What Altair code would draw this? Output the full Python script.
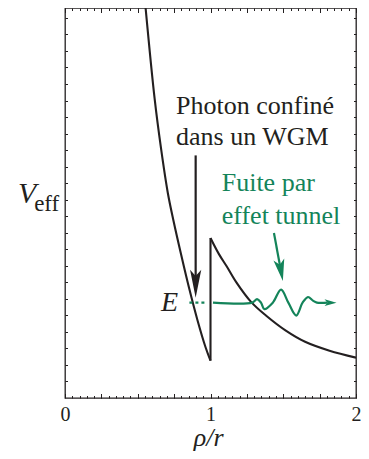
import altair as alt
import pandas as pd

BLACK = "#231f20"
GREEN = "#14845a"
FONT = "Liberation Serif"

# ---- data (x = rho/r, v = V_eff in arbitrary units) ----
left_x = [0.550, 0.616, 0.660, 0.707, 0.746, 0.798, 0.852, 0.911, 0.966, 1.0]
left_v = [23.97, 18.11, 15.10, 12.39, 10.71, 8.68, 6.68, 4.69, 3.07, 2.26]

jump_x = [1.0, 1.0]
jump_v = [2.26, 9.68]

right_x = [1.0, 1.057, 1.111, 1.179, 1.280, 1.381, 1.515, 1.650, 1.818, 2.0]
right_v = [9.68, 8.72, 7.97, 6.98, 5.80, 4.99, 4.09, 3.40, 2.86, 2.44]

dotted_x = [0.855, 0.976]
dotted_v = [5.77, 5.77]

wave_x = [1.017, 1.286, 1.320, 1.347, 1.370, 1.428, 1.485, 1.535, 1.589, 1.633, 1.670, 1.704, 1.731, 1.805]
wave_v = [5.77, 5.77, 5.98, 5.77, 5.38, 5.77, 6.56, 5.77, 4.99, 5.77, 6.11, 5.89, 5.77, 5.77]

wgm_arrow_x = [0.898, 0.898]
wgm_arrow_v = [14.68, 6.92]

tunnel_arrow_x = [1.436, 1.4835]
tunnel_arrow_v = [9.985, 7.73]

wave_tip_x = [1.825]
wave_tip_v = [5.77]

label_text = ["Photon confiné", "dans un WGM"]
label_x = [0.763, 0.763]
label_v = [17.20, 15.30]

green_text = ["Fuite par", "effet tunnel"]
green_x = [1.077, 1.077]
green_v = [12.51, 10.53]

x_minor_ticks = [round(0.05 * i, 2) for i in range(1, 40)]
x_major_ticks = [0, 0.25, 0.5, 0.75, 1, 1.25, 1.5, 1.75, 2]
y_ticks = list(range(1, 24))

XDOM = [0, 2]
YDOM = [0, 23.6]

xs = alt.Scale(domain=XDOM, nice=False, zero=False)
ys = alt.Scale(domain=YDOM, nice=False, zero=False)


def df(x, v, **extra):
    d = pd.DataFrame({"x": x, "v": v})
    for k, val in extra.items():
        d[k] = val
    return d


def tick_axis(orient, values, size):
    return alt.Axis(orient=orient, values=values, tickSize=alt.ExprRef(expr=str(-size)),
                    labels=False, domain=False, grid=False, title=None,
                    tickColor=BLACK, tickWidth=1)


bottom_major = alt.Axis(orient="bottom", values=x_major_ticks, tickSize=alt.ExprRef(expr="-4.5"),
                        labelExpr="datum.value % 1 === 0 ? format(datum.value, 'd') : ''",
                        labelFont=FONT, labelFontSize=20, labelColor=BLACK,
                        labelPadding=10.5, labelFlush=False, labelOverlap=False,
                        domain=False, grid=False, title=None, tickColor=BLACK, tickWidth=1)

X = lambda ax=None: alt.X("x:Q", scale=xs, axis=ax)
Y = lambda ax=None: alt.Y("v:Q", scale=ys, axis=ax)

left = alt.Chart(df(left_x, left_v)).mark_line(
    color=BLACK, strokeWidth=2.1, interpolate="catmull-rom", clip=True
).encode(x=X(tick_axis("bottom", x_minor_ticks, 2.5)), y=Y(tick_axis("left", y_ticks, 2.5)))

jump = alt.Chart(df(jump_x, jump_v)).mark_line(
    color=BLACK, strokeWidth=2.1, clip=True
).encode(x=X(tick_axis("top", x_minor_ticks, 2.5)), y=Y(tick_axis("right", y_ticks, 2.5)))

right = alt.Chart(df(right_x, right_v)).mark_line(
    color=BLACK, strokeWidth=2.1, interpolate="catmull-rom", clip=True
).encode(x=X(bottom_major), y=Y())

wave = alt.Chart(df(wave_x, wave_v, o=list(range(len(wave_x))))).mark_line(
    color=GREEN, strokeWidth=2.2, interpolate="catmull-rom"
).encode(x=X(tick_axis("top", x_major_ticks, 4.5)), y=Y(), order="o:Q")

dotted = alt.Chart(df(dotted_x, dotted_v)).mark_line(
    color=GREEN, strokeWidth=2.2, strokeDash=[3, 3]
).encode(x=X(), y=Y())

wgm_line = alt.Chart(df(wgm_arrow_x, wgm_arrow_v)).mark_line(
    color=BLACK, strokeWidth=2.2
).encode(x=X(), y=Y())

wgm_head = alt.Chart(df(wgm_arrow_x[1:], wgm_arrow_v[1:])).mark_point(
    shape="M0,1 L-0.4,-1 L0,-0.55 L0.4,-1 Z", filled=True, size=784,
    color=BLACK, opacity=1, strokeWidth=0
).encode(x=X(), y=Y())

tunnel_line = alt.Chart(df(tunnel_arrow_x, tunnel_arrow_v)).mark_line(
    color=GREEN, strokeWidth=2.2
).encode(x=X(), y=Y())

tunnel_head = alt.Chart(df(tunnel_arrow_x[1:], tunnel_arrow_v[1:])).mark_point(
    shape="M0,1 L-0.5,-1 L0,-0.5 L0.5,-1 Z", filled=True, size=484, angle=349.5,
    color=GREEN, opacity=1, strokeWidth=0
).encode(x=X(), y=Y())

wave_head = alt.Chart(df(wave_tip_x, wave_tip_v)).mark_point(
    shape="M1,0 L-1,-0.55 L-0.5,0 L-1,0.55 Z", filled=True, size=144,
    color=GREEN, opacity=1, strokeWidth=0
).encode(x=X(), y=Y())

black_txt = alt.Chart(df(label_x, label_v, t=label_text)).mark_text(
    font=FONT, fontSize=26, color=BLACK, align="left", baseline="alphabetic"
).encode(x=X(), y=Y(), text="t:N")

green_txt = alt.Chart(df(green_x, green_v, t=green_text)).mark_text(
    font=FONT, fontSize=26, color=GREEN, align="left", baseline="alphabetic"
).encode(x=X(), y=Y(), text="t:N")

e_txt = alt.Chart(df([0.66], [5.29], t=["E"])).mark_text(
    font=FONT, fontSize=28, fontStyle="italic", color=BLACK, align="left", baseline="alphabetic"
).encode(x=X(), y=Y(), text="t:N")

v_txt = alt.Chart(df([-0.323], [11.79], t=["V"])).mark_text(
    font=FONT, fontSize=30, fontStyle="italic", color=BLACK, align="left", baseline="alphabetic"
).encode(x=X(), y=Y(), text="t:N")

eff_txt = alt.Chart(df([-0.212], [11.29], t=["eff"])).mark_text(
    font=FONT, fontSize=23, color=BLACK, align="left", baseline="alphabetic"
).encode(x=X(), y=Y(), text="t:N")

xtitle = alt.Chart(df([0.988], [-2.88], t=["ρ/r"])).mark_text(
    font=FONT, fontSize=26, fontStyle="italic", color=BLACK, align="center", baseline="alphabetic"
).encode(x=X(), y=Y(), text="t:N")

chart = alt.layer(
    left, jump, right, wave, dotted, wgm_line, wgm_head, tunnel_line, tunnel_head,
    wave_head, black_txt, green_txt, e_txt, v_txt, eff_txt, xtitle
).resolve_axis(x="independent", y="independent").properties(
    width=291, height=390,
    autosize=alt.AutoSizeParams(type="none"),
    padding={"left": 57, "top": 0, "right": 5, "bottom": 53},
    background="white",
).configure_view(stroke=BLACK, strokeWidth=1.3)

chart.save("out.html", embed_options={"renderer": "svg", "actions": False})
